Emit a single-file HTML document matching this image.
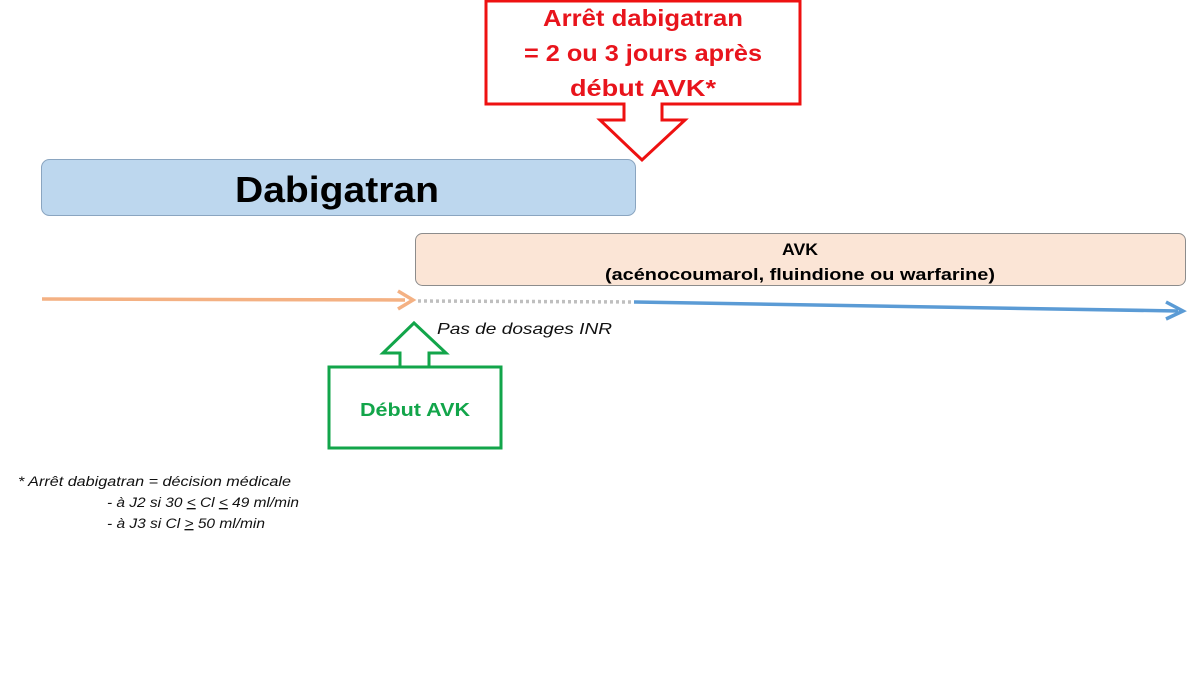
<!DOCTYPE html>
<html><head><meta charset="utf-8"><style>html,body{margin:0;padding:0;background:#fff}svg{display:block}</style></head>
<body>
<svg width="1200" height="675" viewBox="0 0 1200 675" xmlns="http://www.w3.org/2000/svg" font-family="Liberation Sans, sans-serif">
<rect x="0" y="0" width="1200" height="675" fill="#fff"/>
<!-- red callout -->
<path d="M486,1 L800,1 L800,104 L662,104 L662,120 L685,120 L642,160 L600,120 L624,120 L624,104 L486,104 Z" fill="#fff" stroke="#e11" stroke-width="3"/>
<g fill="#e8141c" font-weight="bold" font-size="23" text-anchor="middle">
<text x="643" y="26" textLength="200" lengthAdjust="spacingAndGlyphs">Arrêt dabigatran</text>
<text x="643" y="61" textLength="238" lengthAdjust="spacingAndGlyphs">= 2 ou 3 jours après</text>
<text x="643" y="96" textLength="146" lengthAdjust="spacingAndGlyphs">début AVK*</text>
</g>
<!-- Dabigatran -->
<rect x="41.5" y="159.5" width="594" height="56" rx="8" fill="#bdd7ee" stroke="#8aa5c0" stroke-width="1"/>
<text x="337" y="202" font-size="36" font-weight="bold" text-anchor="middle" textLength="204" lengthAdjust="spacingAndGlyphs">Dabigatran</text>
<!-- AVK -->
<rect x="415.5" y="233.5" width="770" height="52" rx="7" fill="#fbe5d6" stroke="#8c8c8c" stroke-width="1"/>
<g font-size="17" font-weight="bold" text-anchor="middle">
<text x="800" y="255" textLength="36" lengthAdjust="spacingAndGlyphs">AVK</text>
<text x="800" y="280" textLength="390" lengthAdjust="spacingAndGlyphs">(acénocoumarol, fluindione ou warfarine)</text>
</g>
<!-- timeline -->
<line x1="42" y1="299" x2="405" y2="300" stroke="#f4b183" stroke-width="3.5"/>
<path d="M398,291 L413,300 L398,309" fill="none" stroke="#f4b183" stroke-width="3.5"/>
<line x1="418" y1="301" x2="633" y2="302" stroke="#bfbfbf" stroke-width="3.5" stroke-dasharray="3,3"/>
<line x1="634" y1="302" x2="1178" y2="311" stroke="#5b9bd5" stroke-width="3.5"/>
<path d="M1166,302 L1183,311 L1166,319" fill="none" stroke="#5b9bd5" stroke-width="3.5"/>
<text x="437" y="334" font-size="16" font-style="italic" fill="#111" textLength="175" lengthAdjust="spacingAndGlyphs">Pas de dosages  INR</text>
<!-- green callout -->
<path d="M329,367 L501,367 L501,448 L329,448 Z M329,367 L400,367 L400,353 L383,353 L414,323 L446,353 L429,353 L429,367" fill="#fff" stroke="#12a54a" stroke-width="3"/>
<text x="415" y="416" font-size="18" font-weight="bold" fill="#12a54a" text-anchor="middle" textLength="110" lengthAdjust="spacingAndGlyphs">Début AVK</text>
<!-- footnote -->
<g font-size="13.5" font-style="italic" fill="#111">
<text x="18" y="486" textLength="273" lengthAdjust="spacingAndGlyphs">* Arrêt dabigatran = décision médicale</text>
<text x="107" y="507" textLength="192" lengthAdjust="spacingAndGlyphs">- à J2 si 30 <tspan text-decoration="underline">&lt;</tspan> Cl <tspan text-decoration="underline">&lt;</tspan> 49 ml/min</text>
<text x="107" y="528" textLength="158" lengthAdjust="spacingAndGlyphs">- à J3 si Cl <tspan text-decoration="underline">&gt;</tspan> 50 ml/min</text>
</g>
</svg>
</body></html>
